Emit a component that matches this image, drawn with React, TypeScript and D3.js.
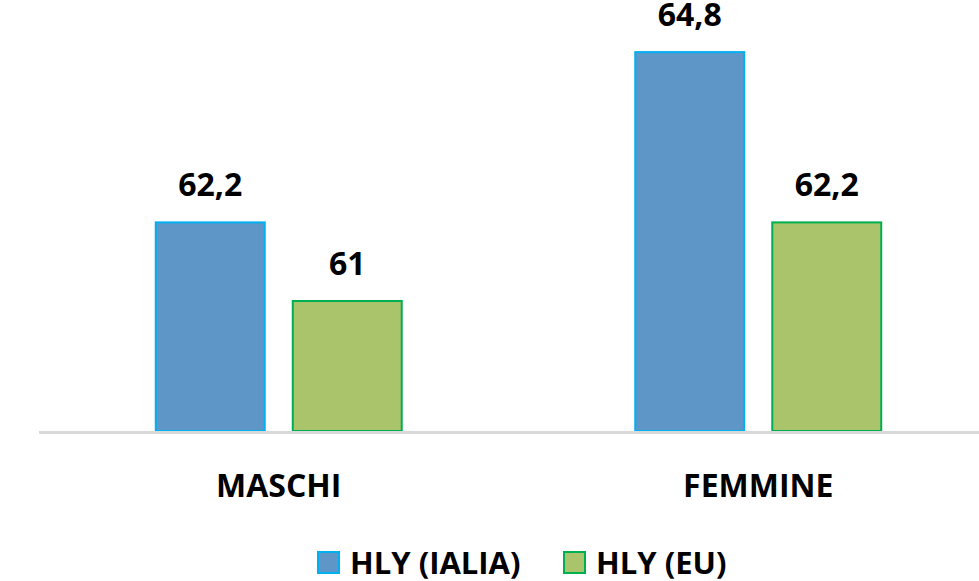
import React from "react";
import * as d3 from "d3";

const categories = ["MASCHI", "FEMMINE"];
const seriesNames = ["HLY (IALIA)", "HLY (EU)"];
const italiaValues = [62.2, 64.8];
const euValues = [61, 62.2];
const valueLabels = [["62,2", "61"], ["64,8", "62,2"]];

const fills = ["#5F96C8", "#AAC46C"];
const strokes = ["#00B0F0", "#00B050"];

export default function App() {
  const W = 979, H = 581;
  const x0 = d3.scaleBand<string>().domain(categories).range([39, 998]).padding(0);
  const x1 = d3.scaleBand<string>().domain(seriesNames).range([0, x0.bandwidth()])
    .paddingInner(0.19).paddingOuter(0.845);
  const y = d3.scaleLinear().domain([59, 65]).range([431, 38]);
  const series = [italiaValues, euValues];
  const font = "'Open Sans', sans-serif";

  return (
    <svg width={W} height={H} style={{ position: "absolute", left: 0, top: 0, background: "#fff" }}>
      {categories.map((c, ci) => (
        <g key={c}>
          {seriesNames.map((s, si) => {
            const v = series[si][ci];
            const bx = (x0(c) ?? 0) + (x1(s) ?? 0);
            const bw = x1.bandwidth();
            return (
              <g key={s}>
                <rect x={bx + 1} y={y(v) + 1} width={bw - 2} height={y(59) - y(v) - 1}
                  fill={fills[si]} stroke={strokes[si]} strokeWidth={2} />
                <text x={bx + bw / 2} y={y(v) - 25} textAnchor="middle" fontFamily={font}
                  fontWeight={700} fontSize={32} fill="#000">{valueLabels[ci][si]}</text>
              </g>
            );
          })}
          <text x={(x0(c) ?? 0) + x0.bandwidth() / 2} y={497} textAnchor="middle" fontFamily={font}
            fontWeight={700} fontSize={32} fill="#000">{c}</text>
        </g>
      ))}
      <line x1={39} x2={979} y1={432.5} y2={432.5} stroke="#d9d9d9" strokeWidth={3} />
      {seriesNames.map((s, si) => {
        const lx = [317, 563][si];
        return (
          <g key={s}>
            <rect x={lx + 1} y={552} width={21} height={21} fill={fills[si]} stroke={strokes[si]} strokeWidth={2} />
            <text x={lx + 33} y={574} fontFamily={font} fontWeight={700} fontSize={31} fill="#000">{s}</text>
          </g>
        );
      })}
    </svg>
  );
}
